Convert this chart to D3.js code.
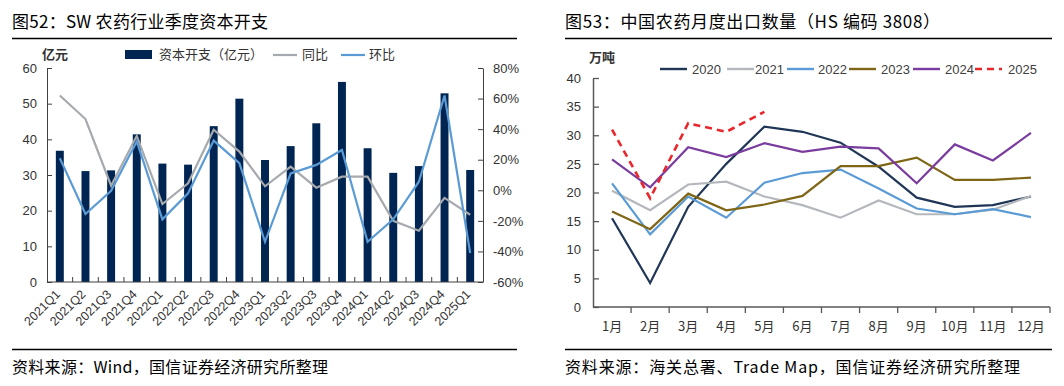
<!DOCTYPE html>
<html>
<head>
<meta charset="utf-8">
<script src="https://cdn.jsdelivr.net/npm/d3@7/dist/d3.min.js"></script>
<style>
  body { margin: 0; background: #fff; }
  svg { display: block; }
  text { font-family: "Liberation Sans", Arial, "Noto Sans CJK SC", sans-serif; }
  .cn { font-family: "Noto Sans CJK SC", sans-serif; }
</style>
</head>
<body>
<div id="chart"></div>
<script>
// left chart: quarterly capex
var quarters = ["2021Q1","2021Q2","2021Q3","2021Q4","2022Q1","2022Q2","2022Q3","2022Q4",
  "2023Q1","2023Q2","2023Q3","2023Q4","2024Q1","2024Q2","2024Q3","2024Q4","2025Q1"];
var capex = [36.8, 31.1, 31.3, 41.4, 33.2, 32.9, 43.7, 51.4, 34.2, 38.1, 44.5, 56.1, 37.5, 30.6, 32.5, 52.9, 31.4];
var yoy = [62, 46.6, 3, 35.6, -9, 4.6, 39.6, 25.3, 2.6, 15.5, 1.7, 8.9, 8.9, -20, -26.5, -5, -16];
var qoq = [21, -15.5, -0.3, 32, -19, -2, 32.5, 17.7, -33.7, 11, 16.6, 26.4, -33.7, -19, 5.6, 62, -41];
var leftTicks = [0, 10, 20, 30, 40, 50, 60];
var pctTicks = [-60, -40, -20, 0, 20, 40, 60, 80];

// right chart: monthly export volume
var months = ["1月","2月","3月","4月","5月","6月","7月","8月","9月","10月","11月","12月"];
var years = ["2020","2021","2022","2023","2024","2025"];
var v2020 = [15.5, 4.2, 17.5, 25, 31.5, 30.6, 28.7, 24.5, 19.1, 17.5, 17.8, 19.3];
var v2021 = [20.3, 16.9, 21.4, 21.9, 19.3, 17.8, 15.6, 18.6, 16.2, 16.2, 17.0, 19.4];
var v2022 = [21.6, 12.7, 19.3, 15.6, 21.7, 23.4, 24.0, 20.7, 17.2, 16.2, 17.1, 15.7];
var v2023 = [16.7, 13.6, 19.8, 16.9, 17.9, 19.4, 24.6, 24.6, 26.1, 22.2, 22.2, 22.6];
var v2024 = [25.8, 20.9, 27.9, 26.2, 28.6, 27.1, 28.0, 27.7, 21.6, 28.4, 25.6, 30.4];
var v2025 = [31.0, 19.0, 32.1, 30.6, 34.1];
var exportTicks = [0, 5, 10, 15, 20, 25, 30, 35, 40];

var svg = d3.select("#chart").append("svg")
  .attr("width", 1064).attr("height", 386);

// ---------- frame texts ----------
function frame(x0, x1, title, titleW, source, sourceW) {
  svg.append("text").attr("class", "cn")
    .attr("x", x0).attr("y", 28)
    .attr("font-size", 17).attr("fill", "#000")
    .attr("textLength", titleW).attr("lengthAdjust", "spacing")
    .text(title);
  svg.append("line").attr("x1", x0).attr("x2", x1).attr("y1", 38.5).attr("y2", 38.5)
    .attr("stroke", "#000").attr("stroke-width", 1.3);
  svg.append("line").attr("x1", x0).attr("x2", x1).attr("y1", 349.5).attr("y2", 349.5)
    .attr("stroke", "#000").attr("stroke-width", 1.3);
  svg.append("text").attr("class", "cn")
    .attr("x", x0).attr("y", 373)
    .attr("font-size", 16).attr("fill", "#000")
    .attr("textLength", sourceW).attr("lengthAdjust", "spacing")
    .text(source);
}
frame(12, 517, "图52：SW 农药行业季度资本开支", 256, "资料来源：Wind，国信证券经济研究所整理", 316);
frame(565, 1052, "图53：中国农药月度出口数量（HS 编码 3808）", 375, "资料来源：海关总署、Trade Map，国信证券经济研究所整理", 455);

// ---------- left chart ----------
var axisColor = "#404040";
var x = d3.scaleBand().domain(quarters).range([47, 483]).paddingInner(0.69).paddingOuter(0.345);
var y = d3.scaleLinear().domain([0, 60]).range([282, 68]);
var y2 = d3.scaleLinear().domain([-60, 80]).range([282, 68]);

var left = svg.append("g");

left.selectAll("rect.bar")
  .data(quarters)
  .enter().append("rect")
  .attr("x", (d) => x(d))
  .attr("width", x.bandwidth())
  .attr("y", (d, i) => y(capex[i]))
  .attr("height", (d, i) => y(0) - y(capex[i]))
  .attr("fill", "#002552");

var cx = (d) => x(d) + x.bandwidth() / 2;

left.append("path")
  .datum(quarters)
  .attr("fill", "none")
  .attr("stroke", "#a6a9ad")
  .attr("stroke-width", 2.2)
  .attr("d", d3.line().x(cx).y((d, i) => y2(yoy[i])));

left.append("path")
  .datum(quarters)
  .attr("fill", "none")
  .attr("stroke", "#5b9bd5")
  .attr("stroke-width", 2.2)
  .attr("d", d3.line().x(cx).y((d, i) => y2(qoq[i])));

// left axis
var ga = left.append("g").attr("transform", "translate(47,0)")
  .call(d3.axisLeft(y).tickValues(leftTicks).tickSizeInner(-5).tickSizeOuter(0).tickPadding(10));
ga.select(".domain").attr("stroke", axisColor);
ga.selectAll(".tick line").attr("stroke", axisColor);
ga.selectAll("text").attr("font-size", 13).attr("fill", "#333");

// right axis
var gb = left.append("g").attr("transform", "translate(483,0)")
  .call(d3.axisRight(y2).tickValues(pctTicks).tickSizeInner(-5).tickSizeOuter(0).tickPadding(10)
    .tickFormat((d) => d + "%"));
gb.select(".domain").attr("stroke", axisColor);
gb.selectAll(".tick line").attr("stroke", axisColor);
gb.selectAll("text").attr("font-size", 13).attr("fill", "#333");

// bottom axis with ticks at category boundaries
left.append("line").attr("x1", 47).attr("x2", 483).attr("y1", 282).attr("y2", 282)
  .attr("stroke", axisColor);
left.selectAll("line.qtick")
  .data(quarters.slice(1))
  .enter().append("line")
  .attr("x1", (d) => x(d) - x.step() * x.paddingInner() / 2)
  .attr("x2", (d) => x(d) - x.step() * x.paddingInner() / 2)
  .attr("y1", 282).attr("y2", 277)
  .attr("stroke", axisColor);
left.selectAll("text.qlab")
  .data(quarters)
  .enter().append("text")
  .attr("text-anchor", "end")
  .attr("font-size", 12.5)
  .attr("fill", "#333")
  .attr("transform", (d) => "translate(" + (cx(d) + 1) + ",295) rotate(-45)")
  .text((d) => d);

left.append("text").attr("class", "cn")
  .attr("x", 42).attr("y", 59).attr("font-size", 13).attr("font-weight", "bold")
  .attr("fill", "#333").text("亿元");

// legend
var lg = left.append("g");
lg.append("rect").attr("x", 125).attr("y", 50).attr("width", 27).attr("height", 9).attr("fill", "#002552");
lg.append("text").attr("class", "cn").attr("x", 159).attr("y", 59).attr("font-size", 13).attr("fill", "#333").text("资本开支（亿元）");
lg.append("line").attr("x1", 273).attr("x2", 297).attr("y1", 55).attr("y2", 55).attr("stroke", "#a6a9ad").attr("stroke-width", 2.2);
lg.append("text").attr("class", "cn").attr("x", 302).attr("y", 59).attr("font-size", 13).attr("fill", "#333").text("同比");
lg.append("line").attr("x1", 341).attr("x2", 365).attr("y1", 55).attr("y2", 55).attr("stroke", "#5b9bd5").attr("stroke-width", 2.2);
lg.append("text").attr("class", "cn").attr("x", 369).attr("y", 59).attr("font-size", 13).attr("fill", "#333").text("环比");

// ---------- right chart ----------
var rColor = "#595959";
var xm = d3.scaleBand().domain(months).range([593, 1050]).padding(0);
var ym = d3.scaleLinear().domain([0, 40]).range([307, 78]);
var right = svg.append("g");

var series = [
  { name: years[0], values: v2020, color: "#1f3656", dash: null },
  { name: years[1], values: v2021, color: "#b4b8bd", dash: null },
  { name: years[2], values: v2022, color: "#5b9bd5", dash: null },
  { name: years[3], values: v2023, color: "#7f6516", dash: null },
  { name: years[4], values: v2024, color: "#7a3c9e", dash: null },
  { name: years[5], values: v2025, color: "#e8262b", dash: "7,5" }
];

var mx = (i) => xm(months[i]) + xm.bandwidth() / 2;
series.forEach(function (s) {
  right.append("path")
    .datum(s.values)
    .attr("fill", "none")
    .attr("stroke", s.color)
    .attr("stroke-width", s.dash ? 2.6 : 2.2)
    .attr("stroke-dasharray", s.dash)
    .attr("d", d3.line().x((d, i) => mx(i)).y((d) => ym(d)));
});

var gm = right.append("g").attr("transform", "translate(593,0)")
  .call(d3.axisLeft(ym).tickValues(exportTicks).tickSizeInner(-6).tickSizeOuter(0).tickPadding(12));
gm.select(".domain").attr("stroke", rColor).attr("stroke-width", 1.5);
gm.selectAll(".tick line").attr("stroke", rColor).attr("stroke-width", 1.3);
gm.selectAll("text").attr("font-size", 13).attr("fill", "#333");

right.append("line").attr("x1", 593).attr("x2", 1050).attr("y1", 307).attr("y2", 307)
  .attr("stroke", rColor).attr("stroke-width", 1.5);
right.selectAll("line.mtick")
  .data(months.slice(1).concat(["end"]))
  .enter().append("line")
  .attr("x1", (d, i) => 593 + xm.step() * (i + 1))
  .attr("x2", (d, i) => 593 + xm.step() * (i + 1))
  .attr("y1", 307).attr("y2", 313)
  .attr("stroke", rColor).attr("stroke-width", 1.3);
right.selectAll("text.mlab")
  .data(months)
  .enter().append("text")
  .attr("class", "cn")
  .attr("x", (d, i) => mx(i))
  .attr("y", 331)
  .attr("text-anchor", "middle")
  .attr("font-size", 13)
  .attr("fill", "#333")
  .text((d) => d);

right.append("text").attr("class", "cn")
  .attr("x", 589).attr("y", 62).attr("font-size", 13).attr("font-weight", "bold")
  .attr("fill", "#333").text("万吨");

// legend
var legX = [660, 727, 787, 849, 913, 975];
var legTextX = [692, 755, 818, 881, 945, 1008];
series.forEach(function (s, i) {
  right.append("line")
    .attr("x1", legX[i]).attr("x2", legX[i] + 27)
    .attr("y1", 69).attr("y2", 69)
    .attr("stroke", s.color).attr("stroke-width", 2.4)
    .attr("stroke-dasharray", s.dash);
  right.append("text")
    .attr("x", legTextX[i]).attr("y", 74)
    .attr("font-size", 13).attr("fill", "#404040")
    .text(s.name);
});
</script>
</body>
</html>
